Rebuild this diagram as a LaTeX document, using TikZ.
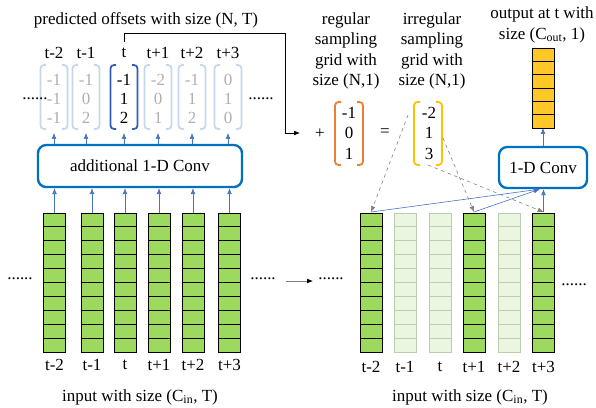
\documentclass[tikz,border=0pt]{standalone}
\usepackage{fontspec}
\setmainfont{Liberation Serif}
\usetikzlibrary{arrows.meta}

\definecolor{convblue}{RGB}{0,112,192}
\definecolor{arrowblue}{RGB}{68,114,196}
\definecolor{featgreen}{RGB}{155,217,95}
\definecolor{fadegreen}{RGB}{234,246,223}
\definecolor{fadeline}{RGB}{188,204,174}
\definecolor{fadeblue}{RGB}{197,214,238}
\definecolor{fadetext}{RGB}{175,175,175}
\definecolor{offblue}{RGB}{47,95,180}
\definecolor{gridorange}{RGB}{237,125,49}
\definecolor{gridyellow}{RGB}{255,192,0}
\definecolor{outyellow}{RGB}{255,200,40}

\tikzset{
  lbl/.style={font=\fontsize{14.5}{17.5}\selectfont, inner sep=0pt},
  convbox/.style={draw=convblue, line width=2pt, rounded corners=7pt, fill=white, font=\fontsize{14.5}{17.5}\selectfont},
  uparrow/.style={arrowblue, line width=0.5pt, -{Latex[length=5pt,width=4pt]}},
  dasharrow/.style={gray, dashed, line width=0.5pt, -{Latex[length=5pt,width=4pt]}},
  brack/.style={line width=1.5pt, rounded corners=3pt},
}

\begin{document}
\begin{tikzpicture}[x=0.03cm, y=-0.03cm]
    \useasboundingbox (0,0) rectangle (596,407);

    % left: input feature columns
    \foreach \x/\i/\t in {54.5/1/t-2, 92/2/t-1, 125/3/t, 159/4/t+1, 193/5/t+2, 229.5/6/t+3} {
        \draw[fill=featgreen, line width=0.8pt] (\x-11,213) rectangle (\x+11,352);
        \foreach \k in {1,...,9}
            \draw[line width=0.8pt] (\x-11,213+13.9*\k) -- (\x+11,213+13.9*\k);
        \coordinate (inL-\i) at (\x,213);
        \node[lbl] (labL-\i) at (\x,365) {\t};
    }
    \node[lbl] (dotsL1) at (20,279) {......};
    \node[lbl] (dotsL2) at (263,279) {......};
    \node[lbl] (inputL) at (140,397) {input with size (C\textsubscript{in}, T)};

    \node[convbox, minimum width=6.12cm, minimum height=1.26cm] (addconv) at (140,166) {additional 1-D Conv};

    % predicted offsets
    \node[lbl] (offtitle) at (146,20) {predicted offsets with size (N, T)};
    \foreach \x/\i/\t/\a/\b/\c/\bc/\tc in {54/1/t-2/-1/-1/-1/fadeblue/fadetext, 86/2/t-1/-1/0/2/fadeblue/fadetext,
            124/3/t/-1/1/2/offblue/black, 158/4/t+1/-2/0/1/fadeblue/fadetext,
            192/5/t+2/-1/1/2/fadeblue/fadetext, 228/6/t+3/0/1/0/fadeblue/fadetext} {
        \draw[brack, \bc] (\x-8,65) -- (\x-13.5,65) -- (\x-13.5,129) -- (\x-8,129);
        \draw[brack, \bc] (\x+8,65) -- (\x+13.5,65) -- (\x+13.5,129) -- (\x+8,129);
        \node[lbl, text=\tc] (off-\i-a) at (\x,80) {\a};
        \node[lbl, text=\tc] (off-\i-b) at (\x,99) {\b};
        \node[lbl, text=\tc] (off-\i-c) at (\x,118) {\c};
        \node[lbl] (offlab-\i) at (\x,53) {\t};
        \coordinate (offb-\i) at (\x,133);
        \coordinate (offt-\i) at (\x,42);
    }
    \node[lbl] (dotsO1) at (35,99) {......};
    \node[lbl] (dotsO2) at (261,99) {......};

    \foreach \i in {1,...,6} {
        \draw[uparrow] (inL-\i) -- (inL-\i |- addconv.south);
        \draw[uparrow] (addconv.north -| offb-\i) -- (offb-\i);
    }

    % sampling grids
    \node[lbl, align=center] (regtext) at (346,51) {regular\\sampling\\grid with\\size (N,1)};
    \node[lbl, align=center] (irrtext) at (432,51) {irregular\\sampling\\grid with\\size (N,1)};
    \draw[brack, gridorange] (341,102) -- (335,102) -- (335,165) -- (341,165);
    \draw[brack, gridorange] (357,102) -- (363,102) -- (363,165) -- (357,165);
    \node[lbl] (reg-a) at (349,113) {-1};
    \node[lbl] (reg-b) at (349,133) {0};
    \node[lbl] (reg-c) at (349,154) {1};
    \draw[brack, gridyellow] (420,102) -- (414,102) -- (414,165) -- (420,165);
    \draw[brack, gridyellow] (436,102) -- (442,102) -- (442,165) -- (436,165);
    \node[lbl] (irr-a) at (429,113) {-2};
    \node[lbl] (irr-b) at (429,133) {1};
    \node[lbl] (irr-c) at (429,154) {3};
    \node[lbl] (plus) at (320,134) {+};
    \node[lbl] (equal) at (385,133) {=};
    \draw[black, line width=0.6pt, -{Latex[length=5pt,width=4pt]}] (offt-3) -- (124,33) -- (285,33) -- (285,133) -- (300,133);

    % arrow between groups
    \coordinate (gapL) at (286,281);
    \coordinate (gapR) at (313,281);
    \draw[gray, line width=0.6pt, -{Latex[length=5pt,width=4pt,color=black]}] (gapL) -- (gapR);

    % right: sampled input columns
    \foreach \x/\i/\t/\on in {371/1/t-2/1, 405/2/t-1/0, 440/3/t/0, 474/4/t+1/1, 509/5/t+2/0, 543.5/6/t+3/1} {
        \ifnum\on=1
            \draw[fill=featgreen, line width=0.8pt] (\x-11,213) rectangle (\x+11,352);
            \foreach \k in {1,...,9}
                \draw[line width=0.8pt] (\x-11,213+13.9*\k) -- (\x+11,213+13.9*\k);
        \else
            \draw[fill=fadegreen, draw=fadeline, line width=0.8pt] (\x-11,213) rectangle (\x+11,352);
            \foreach \k in {1,...,9}
                \draw[fadeline, line width=0.8pt] (\x-11,213+13.9*\k) -- (\x+11,213+13.9*\k);
        \fi
        \coordinate (inR-\i) at (\x,212);
        \node[lbl] (labR-\i) at (\x,367) {\t};
    }
    \node[lbl] (dotsR1) at (331,279) {......};
    \node[lbl] (dotsR2) at (574,285) {......};
    \node[lbl] (inputR) at (470,397) {input with size (C\textsubscript{in}, T)};

    \node[convbox, minimum width=2.64cm, minimum height=1.23cm] (conv) at (543,167.5) {1-D Conv};

    % output column
    \node[lbl, align=center] (outtext) at (542,25) {output at t with\\size (C\textsubscript{out}, 1)};
    \draw[fill=outyellow, line width=0.8pt] (532,48) rectangle (554,128);
    \foreach \k in {1,...,5}
        \draw[line width=0.8pt] (532,48+13.33*\k) -- (554,48+13.33*\k);
    \coordinate (outcol) at (543,128);
    \draw[uparrow] (conv.north) -- (outcol);

    % sampling and convolution
    \coordinate (irr-from-a) at (408,115);
    \coordinate (irr-from-b) at (443,138);
    \coordinate (irr-from-c) at (428,165);
    \draw[dasharrow] (irr-from-a) -- (inR-1);
    \draw[dasharrow] (irr-from-b) -- (inR-4);
    \draw[dasharrow] (irr-from-c) -- (inR-6);
    \draw[uparrow] (inR-1) -- ([xshift=-0.1cm]conv.south);
    \draw[uparrow] (inR-4) -- ([xshift=-0.1cm]conv.south);
    \draw[uparrow] (inR-6) -- (inR-6 |- conv.south);
\end{tikzpicture}
\end{document}
